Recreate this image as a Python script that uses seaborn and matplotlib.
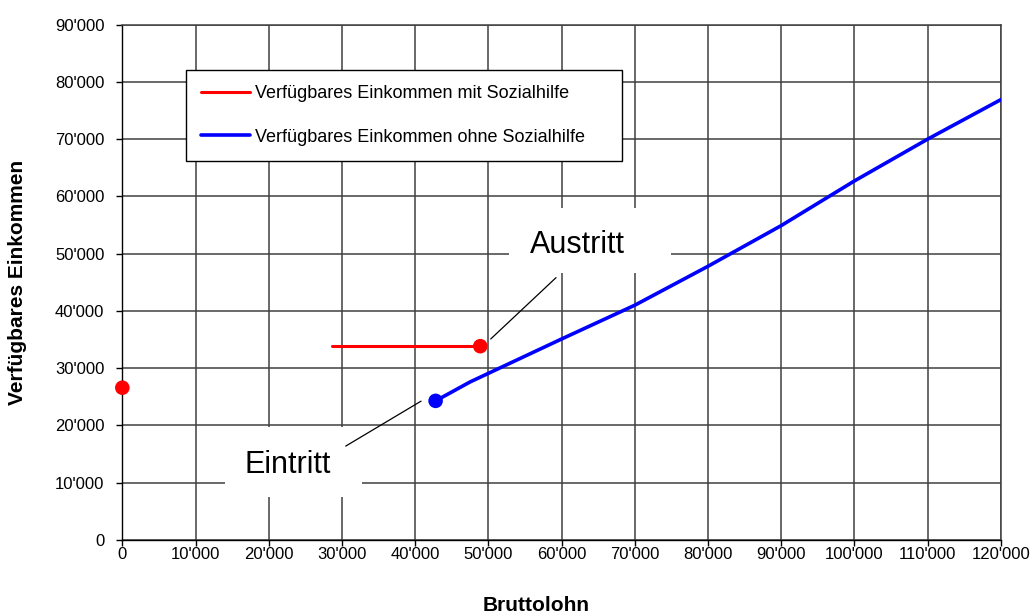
import matplotlib
matplotlib.use("Agg")
import matplotlib.pyplot as plt
from matplotlib.patches import Rectangle
from matplotlib.lines import Line2D
from matplotlib.ticker import FuncFormatter, MultipleLocator
import seaborn as sns
import pandas as pd

# ---- data ----
red_x = [28700, 48900]
red_y = [33850, 33850]
red_dots_x = [0, 48900]
red_dots_y = [26600, 33850]

blue_x = [42800, 47500, 50000, 60000, 70000, 80000, 90000, 100000, 110000, 120000]
blue_y = [24300, 27600, 29100, 35100, 41000, 47800, 54900, 62700, 70000, 76900]
blue_dot_x = [42800]
blue_dot_y = [24300]

label_red = "Verfügbares Einkommen mit Sozialhilfe"
label_blue = "Verfügbares Einkommen ohne Sozialhilfe"
x_label = "Bruttolohn"
y_label = "Verfügbares Einkommen"
note_out = "Austritt"
note_in = "Eintritt"

sns.set_theme(style="white")
plt.rcParams['font.family'] = ['Liberation Sans', 'DejaVu Sans']
plt.rcParams['text.color'] = 'black'

fig = plt.figure(figsize=(10.34, 6.13), dpi=100)
ax = fig.add_axes([0.1183, 0.1191, 0.8495, 0.8406])

grid_c = '#404040'
ax.set_axisbelow(True)
ax.grid(True, color=grid_c, linewidth=1.1)

df_red = pd.DataFrame({'x': red_x, 'y': red_y})
df_blue = pd.DataFrame({'x': blue_x, 'y': blue_y})
sns.lineplot(data=df_red, x='x', y='y', color='#ff0000', linewidth=2.2, ax=ax, zorder=4, sort=False)
sns.lineplot(data=df_blue, x='x', y='y', color='#0000ff', linewidth=2.6, ax=ax, zorder=4, sort=False)
sns.scatterplot(x=red_dots_x, y=red_dots_y, color='#ff0000', s=110, edgecolor='none', ax=ax, zorder=5, clip_on=False)
sns.scatterplot(x=blue_dot_x, y=blue_dot_y, color='#0000ff', s=110, edgecolor='none', ax=ax, zorder=5, clip_on=False)

ax.set_xlim(0, 120000)
ax.set_ylim(0, 90000)
ax.xaxis.set_major_locator(MultipleLocator(10000))
ax.yaxis.set_major_locator(MultipleLocator(10000))
fmt = FuncFormatter(lambda v, p: f"{int(v):,}".replace(",", "'"))
ax.xaxis.set_major_formatter(fmt)
ax.yaxis.set_major_formatter(fmt)
ax.tick_params(axis='both', direction='out', length=4, width=1, color='black',
               labelsize=12, labelcolor='black')
ax.tick_params(axis='y', pad=9, left=True)
ax.tick_params(axis='x', pad=1, bottom=True)

for s in ['left', 'bottom']:
    ax.spines[s].set_color('black')
    ax.spines[s].set_linewidth(1.0)
for s in ['top', 'right']:
    ax.spines[s].set_color(grid_c)
    ax.spines[s].set_linewidth(1.1)

ax.set_xlabel(x_label, fontsize=15, fontweight='bold', color='black')
ax.set_ylabel(y_label, fontsize=15, fontweight='bold', color='black')
ax.xaxis.set_label_coords(0.471, -0.108)
ax.yaxis.set_label_coords(-0.1085, 0.5)

# white label boxes
ax.add_patch(Rectangle((52800, 46570), 22150, 11340, facecolor='white', edgecolor='none', zorder=2))
ax.add_patch(Rectangle((14060, 7500), 18710, 12210, facecolor='white', edgecolor='none', zorder=2))
ax.text(62200, 50060, note_out, fontsize=22, ha='center', va='baseline', color='black', zorder=3)
ax.text(22540, 11740, note_in, fontsize=22, ha='center', va='baseline', color='black', zorder=3)
ax.plot([59250, 50330], [45820, 35110], color='black', linewidth=0.9, zorder=3)
ax.plot([40810, 30520], [24250, 16400], color='black', linewidth=0.9, zorder=3)

handles = [Line2D([0], [0], color='#ff0000', linewidth=2.2),
           Line2D([0], [0], color='#0000ff', linewidth=2.6)]
leg = ax.legend(handles, [label_red, label_blue], loc='upper left',
                bbox_to_anchor=(0.0725, 0.728, 0.4965, 0.184), mode='expand',
                borderaxespad=0, fontsize=13, frameon=True, fancybox=False,
                framealpha=1, edgecolor='black', borderpad=0.85,
                labelspacing=1.45, handlelength=2.7, handletextpad=0.25,
                labelcolor='black')
leg.get_frame().set_linewidth(1.0)
leg.set_zorder(6)

fig.savefig('out.png', dpi=100)
